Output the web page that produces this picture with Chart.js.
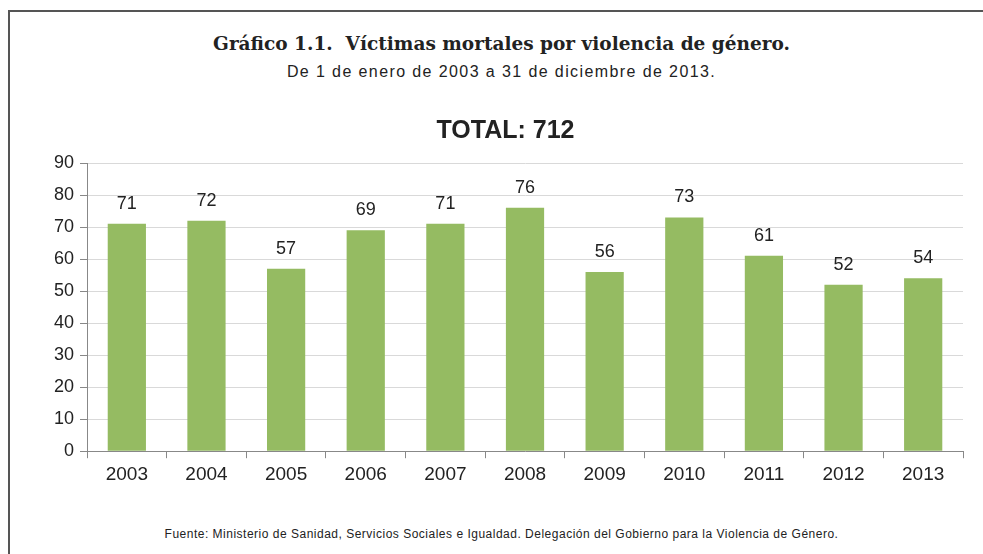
<!DOCTYPE html>
<html>
<head>
<meta charset="utf-8">
<script src="https://cdn.jsdelivr.net/npm/chart.js@4.4.0/dist/chart.umd.min.js"></script>
<style>
  body { margin: 0; background: #fff; }
  #wrap { position: relative; width: 983px; height: 554px; overflow: hidden; }
  #frame { position: absolute; left: 8px; top: 10px; width: 990px; height: 560px;
           border-top: 2px solid #555; border-left: 2px solid #555; }
  .txt { position: absolute; left: 0; width: 1003px; text-align: center; color: #222; white-space: nowrap; }
  #t1 { top: 33px; font: bold 18.5px "DejaVu Serif", serif; }
  #t2 { top: 63px; font: 16px "Liberation Sans", Arial, sans-serif; letter-spacing: 1.4px; }
  #foot { top: 527px; font: 12px "Liberation Sans", Arial, sans-serif; letter-spacing: 0.5px; }
  #c { position: absolute; left: 0; top: 0; }
</style>
</head>
<body>
<div id="wrap">
  <div id="frame"></div>
  <div class="txt" id="t1">Gráfico 1.1.&nbsp; Víctimas mortales por violencia de género.</div>
  <div class="txt" id="t2">De 1 de enero de 2003 a 31 de diciembre de 2013.</div>
  <div class="txt" id="foot">Fuente: Ministerio de Sanidad, Servicios Sociales e Igualdad. Delegación del Gobierno para la Violencia de Género.</div>
  <canvas id="c" width="983" height="554"></canvas>
</div>
<script>
const years = ['2003','2004','2005','2006','2007','2008','2009','2010','2011','2012','2013'];
const victims = [71, 72, 57, 69, 71, 76, 56, 73, 61, 52, 54];
const yTicks = [0, 10, 20, 30, 40, 50, 60, 70, 80, 90];

// etiquetas encima de cada barra
const barLabels = {
  id: 'barLabels',
  afterDatasetsDraw(chart) {
    const ctx = chart.ctx;
    const meta = chart.getDatasetMeta(0);
    ctx.save();
    ctx.font = '18px "Liberation Sans", Arial, sans-serif';
    ctx.fillStyle = '#222';
    ctx.textAlign = 'center';
    ctx.textBaseline = 'middle';
    meta.data.forEach((bar, i) => {
      ctx.fillText(victims[i], bar.x, bar.y - 20);
    });
    ctx.restore();
  }
};

new Chart(document.getElementById('c').getContext('2d'), {
  type: 'bar',
  data: {
    labels: years,
    datasets: [{
      data: victims,
      backgroundColor: '#95BB62',
      barPercentage: 0.48,
      categoryPercentage: 1.0
    }]
  },
  options: {
    responsive: false,
    animation: false,
    layout: { padding: { left: 48, right: 20, top: 116, bottom: 63 } },
    scales: {
      y: {
        min: 0, max: 90,
        afterBuildTicks: axis => { axis.ticks = yTicks.map(v => ({ value: v })); },
        border: { color: '#888', width: 1 },
        grid: { color: '#d9d9d9', tickLength: 7, tickColor: '#888' },
        ticks: { color: '#222', font: { size: 18, family: '"Liberation Sans", Arial' }, padding: 6 }
      },
      x: {
        border: { color: '#888', width: 1 },
        grid: { display: true, offset: true, drawOnChartArea: false, tickLength: 7, tickColor: '#888' },
        ticks: { color: '#222', font: { size: 19, family: '"Liberation Sans", Arial' }, padding: 5 }
      }
    },
    plugins: {
      legend: { display: false },
      tooltip: { enabled: false },
      title: {
        display: true,
        text: 'TOTAL: 712',
        color: '#222',
        font: { size: 25, weight: 'bold', family: '"Liberation Sans", Arial' },
        padding: { top: 0, bottom: 17 }
      }
    }
  },
  plugins: [barLabels]
});
</script>
</body>
</html>
